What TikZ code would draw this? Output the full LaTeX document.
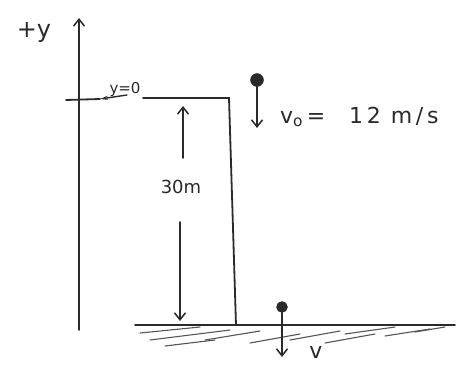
\documentclass[tikz,border=0pt]{standalone}
\usepackage{fontspec}
\setmainfont{DejaVu Sans}
\usetikzlibrary{arrows.meta}
\definecolor{ink}{HTML}{2A2A2A}
\begin{document}
\begin{tikzpicture}[x=1pt,y=-1pt,
  stroke/.style={draw=ink,line width=1.8pt,line cap=round},
  arr/.style={stroke,-{Straight Barb[length=7pt,width=11pt,line width=1.5pt]}},
  hatch/.style={draw=ink!80,line width=1.1pt,line cap=round},
  lbl/.style={text=ink,inner sep=0pt,font=\fontsize{22}{26}\selectfont},
  ball/.style={circle,fill=ink,draw=ink,inner sep=0pt}]
\useasboundingbox (0,0) rectangle (464,367);
% axis
\coordinate (ax0) at (79,330);
\coordinate (ax1) at (79,18);
\draw[arr] (ax0) -- (ax1);
\node[lbl,font=\fontsize{24}{28}\selectfont] (plusy) at (34,32) {+y};
% y=0 tick
\coordinate (t0) at (66,100);
\coordinate (t1) at (100,99);
\draw[stroke] (t0) -- (t1);
\node[lbl,font=\fontsize{15}{18}\selectfont] (yzero) at (125,89) {y=0};
\draw[stroke,line width=1.4pt,-{Stealth[length=8pt,width=4pt]}] (127,95) -- (t1);
% building
\coordinate (b0) at (143,98);
\coordinate (b1) at (229,98);
\coordinate (b2) at (236,325);
\draw[stroke] (b0) -- (b1) -- (b2);
% ground
\coordinate (g0) at (135,325);
\coordinate (g1) at (455,325);
\draw[stroke] (g0) -- (g1);
\foreach \xa/\ya/\xb/\yb in {140/333/200/327, 150/340/230/330, 165/346/215/340, 205/340/260/331, 250/343/300/334, 290/340/340/331, 325/343/375/334, 345/334/395/327, 385/336/430/329, 415/332/445/327}
  \draw[hatch] (\xa,\ya) -- (\xb,\yb);
% top ball
\node[ball,minimum size=13pt] (b1ball) at (257,80) {};
\coordinate (v0end) at (257,128);
\draw[arr] (b1ball.south) -- (v0end);
\node[lbl,anchor=west] (v0) at (280,117) {v$_\mathrm{o}$\,=\hspace{24pt}1\,2\hspace{10pt}m\,/\,s};
% dimension
\node[lbl,font=\fontsize{18}{21}\selectfont] (h) at (181,187) {30m};
\coordinate (dtop) at (183,106);
\coordinate (dbot) at (180,321);
\draw[arr] (183,158) -- (dtop);
\draw[arr] (180,222) -- (dbot);
% bottom ball
\node[ball,minimum size=11pt] (b2ball) at (282,307) {};
\coordinate (vend) at (282,357);
\draw[arr] (b2ball.south) -- (vend);
\node[lbl] (v) at (316,352) {v};
\end{tikzpicture}
\end{document}
